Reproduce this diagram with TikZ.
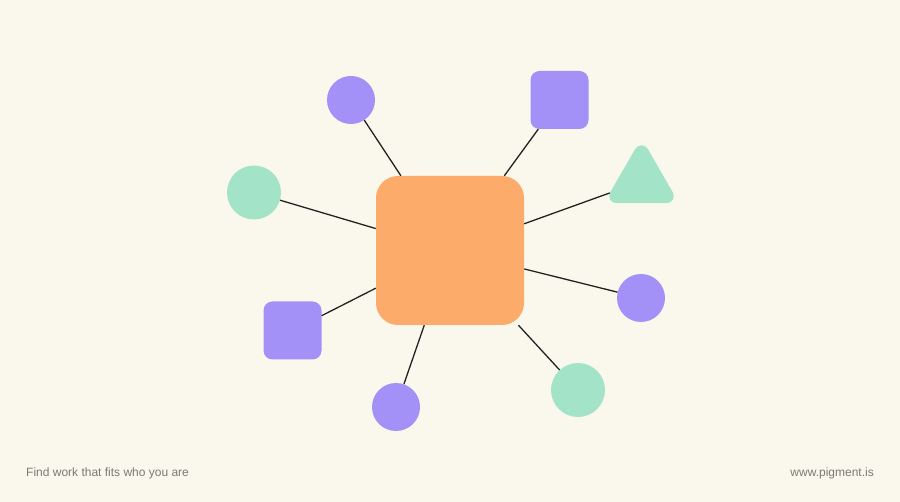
\documentclass[tikz,border=0pt]{standalone}
\usepackage{fontspec}
\setmainfont{Liberation Sans}
\usepackage{tikz}
\usetikzlibrary{shapes.geometric}
\definecolor{paper}{HTML}{FAF8EC}
\definecolor{peach}{HTML}{FDAB6A}
\definecolor{lilac}{HTML}{A491F7}
\definecolor{mint}{HTML}{A3E3C8}
\definecolor{ink}{HTML}{222222}
\definecolor{caption}{HTML}{7A7A76}
\tikzset{
  dot/.style={circle, fill=lilac, inner sep=0pt, minimum size=48pt},
  bigdot/.style={circle, fill=mint, inner sep=0pt, minimum size=54pt},
  tile/.style={rectangle, rounded corners=9pt, fill=lilac, inner sep=0pt, minimum size=58pt},
  spoke/.style={ink, line width=1.3pt},
  footnote/.style={text=caption, font=\fontsize{12}{14}\selectfont, inner sep=0pt}
}

\begin{document}
\begin{tikzpicture}[x=1pt, y=-1pt]
\fill[paper] (0,0) rectangle (900,502);
\useasboundingbox (0,0) rectangle (900,502);
\node[rectangle, rounded corners=22pt, fill=peach, minimum width=148pt, minimum height=149pt, inner sep=0pt] (hub) at (450,250.5) {};
\node[dot] (topdot) at (351,100) {};
\node[tile] (toptile) at (559.5,100) {};
\node[regular polygon, regular polygon sides=3, inner sep=0pt, minimum size=86pt] (tri) at (641.5,181.5) {};
\fill[mint, rounded corners=14pt] (tri.side 1) -- (tri.corner 2) -- (tri.corner 3) -- (tri.corner 1) -- cycle;
\node[bigdot] (leftdot) at (254,192.5) {};
\node[dot] (rightdot) at (641,298) {};
\node[tile] (lefttile) at (292.5,330.5) {};
\node[dot] (lowdot) at (396,407) {};
\node[bigdot] (lowright) at (578,390) {};
\foreach \s in {topdot, toptile, tri, leftdot, rightdot, lefttile, lowdot, lowright}
  \draw[spoke] (\s) -- (hub);
\node[footnote, anchor=base west] (motto) at (26,477) {Find work that fits who you are};
\node[footnote, anchor=base east] (site) at (874,477) {www.pigment.is};
\end{tikzpicture}
\end{document}
